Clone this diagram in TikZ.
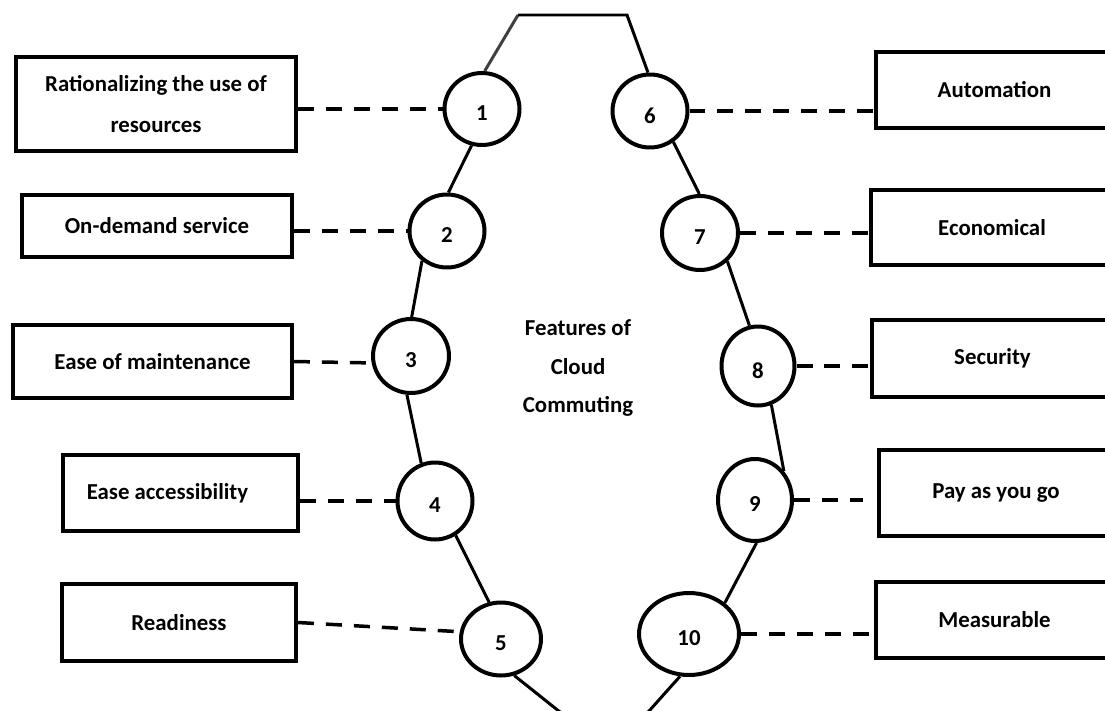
\documentclass[tikz,border=0pt]{standalone}
\usepackage{fontspec}
\setmainfont{Carlito}
\usetikzlibrary{shapes.geometric}
\begin{document}
\begin{tikzpicture}[x=0.02cm,y=-0.02cm,
  txt/.style={font=\bfseries\fontsize{13}{15}\selectfont},
  box/.style={draw, line width=0.08cm, rectangle, inner sep=0pt, align=center, txt},
  num/.style={draw, ellipse, line width=0.08cm, inner sep=0pt},
  numlab/.style={txt, yshift=-0.09cm},
  link/.style={line width=0.06cm},
  dashline/.style={line width=0.07cm, dash pattern=on 0.32cm off 0.24cm}]
\clip (0,0) rectangle (1105,710);
\fill[white] (0,0) rectangle (1105,710);
% left boxes
\node[box, font=\bfseries\fontsize{13}{23.8}\selectfont, minimum width=5.6cm, minimum height=1.88cm] (b1) at (156,104)
  {Rationalizing the use of\\ resources};
\node[box, minimum width=5.4cm, minimum height=1.24cm] (b2) at (157,226) {On-demand service};
\node[box, minimum width=5.58cm, minimum height=1.46cm] (b3) at (152.5,361.5) {Ease of maintenance};
\node[box, minimum width=4.7cm, minimum height=1.52cm] (b4) at (180.5,493) {\hspace*{-0.52cm}Ease accessibility};
\node[box, minimum width=4.68cm, minimum height=1.54cm] (b5) at (179,622.5) {Readiness};
% right boxes
\node[box, minimum width=4.74cm, minimum height=1.52cm] (b6) at (994.5,90) {Automation};
\node[box, minimum width=4.84cm, minimum height=1.5cm] (b7) at (992,227.5) {Economical};
\node[box, minimum width=4.82cm, minimum height=1.54cm] (b8) at (992.5,358.5) {Security};
\node[box, minimum width=4.68cm, minimum height=1.72cm] (b9) at (996,493) {Pay as you go};
\node[box, minimum width=4.74cm, minimum height=1.52cm] (b10) at (994.5,620) {Measurable};
% circles
\node[num, minimum width=1.5cm, minimum height=1.44cm, label={[numlab]center:1}] (c1) at (482,109) {};
\node[num, minimum width=1.5cm, minimum height=1.46cm, label={[numlab]center:2}] (c2) at (447,231) {};
\node[num, minimum width=1.52cm, minimum height=1.48cm, label={[numlab]center:3}] (c3) at (411,356) {};
\node[num, minimum width=1.5cm, minimum height=1.54cm, label={[numlab]center:4}] (c4) at (435,501) {};
\node[num, minimum width=1.6cm, minimum height=1.46cm, label={[numlab]center:5}] (c5) at (501,639) {};
\node[num, minimum width=1.5cm, minimum height=1.46cm, label={[numlab]center:6}] (c6) at (650,111) {};
\node[num, minimum width=1.52cm, minimum height=1.48cm, label={[numlab]center:7}] (c7) at (700,233) {};
\node[num, minimum width=1.46cm, minimum height=1.58cm, label={[numlab]center:8}] (c8) at (758,366) {};
\node[num, minimum width=1.48cm, minimum height=1.64cm, label={[numlab]center:9}] (c9) at (755,500) {};
\node[num, minimum width=2.0cm, minimum height=1.64cm, label={[numlab]center:10}] (c10) at (689,634) {};
% centre text
\node[align=center, font=\bfseries\fontsize{13}{22}\selectfont] (title) at (578,368)
  {Features of\\ Cloud\\ Commuting};
% top and bottom coordinates
\coordinate (tl) at (518,15);
\coordinate (tr) at (627,15);
\coordinate (bl) at (570,720);
\coordinate (br) at (641,720);
\coordinate (d9) at (863,500);
% solid chain
\draw[link, color=black!75] (c1.86) -- (tl);
\draw[link] (tl) -- (tr) -- (c6.93);
\draw[link] (c1.254) -- (c2.88);
\draw[link] (c2.230) -- (c3.89);
\draw[link] (c3.264) -- (c4.110);
\draw[link] (c4.301) -- (c5.108);
\draw[link] (c5.290) -- (bl);
\draw[link] (c6.307) -- (c7.91);
\draw[link] (c7.314) -- (c8.102);
\draw[link] (c8.289) -- (c9.45);
\draw[link] (c9.272) -- (c10.41);
\draw[link] (c10.258) -- (br);
% dashed links
\draw[dashline] (b1.east |- c1.west) -- (c1.west);
\draw[dashline] (b2.east |- c2.west) -- (c2.west);
\draw[dashline] (b3.east) -- (c3.190);
\draw[dashline] (b4.east |- c4.west) -- (c4.west);
\draw[dashline] (b5.east) -- (c5.170);
\draw[dashline] (c6.east) -- (c6.east -| b6.west);
\draw[dashline] (c7.east) -- (c7.east -| b7.west);
\draw[dashline] (c8.east) -- (c8.east -| b8.west);
\draw[dashline] (c9.east) -- (d9);
\draw[dashline] (c10.east) -- (c10.east -| b10.west);
\end{tikzpicture}
\end{document}
